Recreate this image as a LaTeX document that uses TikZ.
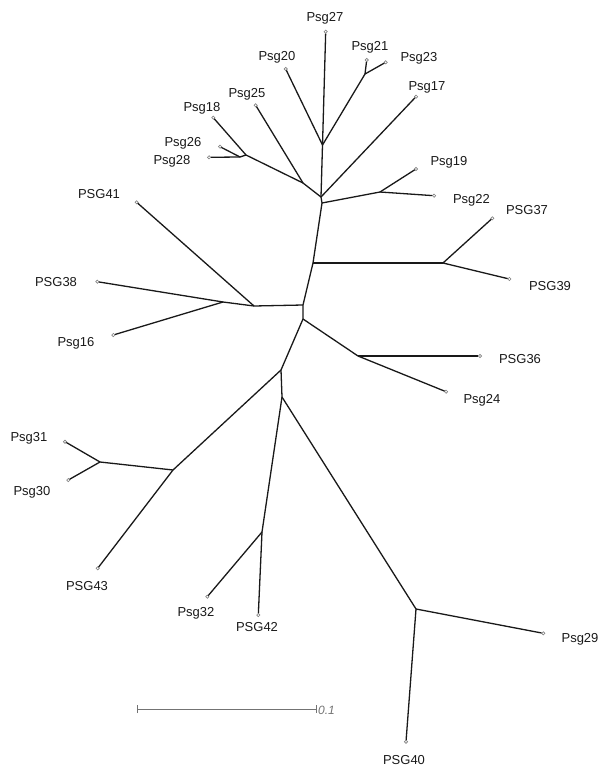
\documentclass[tikz,border=0pt]{standalone}
\usepackage{fontspec}
\setmainfont{Liberation Sans}
\usetikzlibrary{shapes.geometric}
\begin{document}
\begin{tikzpicture}[x=1pt,y=-1pt,
  branch/.style={line width=1.3pt,draw=black!90},
  tipmark/.style={diamond,draw=black!50,fill=white,line width=0.6pt,inner sep=0pt,minimum size=3.5pt},
  taxon/.style={font=\fontsize{13}{13}\selectfont,text=black!90,inner sep=0pt},
  scalebar/.style={line width=1pt,draw=black!55}]
\useasboundingbox (0,0) rectangle (601,770);
% internal nodes
\coordinate (B) at (322.5,145);
\coordinate (A) at (303,183);
\coordinate (C) at (321,197);
\coordinate (C2) at (322,203);
\coordinate (J18) at (246,155);
\coordinate (J2628) at (240,157);
\coordinate (J2123) at (365,74);
\coordinate (D) at (380,192);
\coordinate (E) at (313,263);
\coordinate (F) at (443,263);
\coordinate (G) at (303,305);
\coordinate (Q) at (254,306);
\coordinate (R) at (223,302);
\coordinate (H) at (303,319);
\coordinate (I) at (358,356);
\coordinate (K) at (281,370);
\coordinate (L) at (282,397);
\coordinate (M) at (173,470);
\coordinate (N) at (100,462);
\coordinate (O) at (262,532);
\coordinate (P) at (416,609);
% tips
\node[tipmark] (t27) at (325.7,31.7) {};
\node[tipmark] (t21) at (366.7,60) {};
\node[tipmark] (t23) at (385.7,62.3) {};
\node[tipmark] (t20) at (285.7,69) {};
\node[tipmark] (t17) at (416,96.7) {};
\node[tipmark] (t25) at (255.7,105.3) {};
\node[tipmark] (t18) at (213.3,117.7) {};
\node[tipmark] (t26) at (220,146.7) {};
\node[tipmark] (t28) at (209,157.3) {};
\node[tipmark] (t19) at (416,169) {};
\node[tipmark] (t22) at (434,195.7) {};
\node[tipmark] (t37) at (492.3,218.3) {};
\node[tipmark] (t39) at (509.3,279) {};
\node[tipmark] (t41) at (136.7,202.3) {};
\node[tipmark] (t38) at (97.3,281.7) {};
\node[tipmark] (t16) at (113.3,335) {};
\node[tipmark] (t36) at (480,356) {};
\node[tipmark] (t24) at (446,391.7) {};
\node[tipmark] (t31) at (65,441.7) {};
\node[tipmark] (t30) at (68.3,480) {};
\node[tipmark] (t43) at (97.7,568.3) {};
\node[tipmark] (t42) at (258.3,615) {};
\node[tipmark] (t32) at (207.3,596.7) {};
\node[tipmark] (t29) at (543.3,633.3) {};
\node[tipmark] (t40) at (406,741.7) {};
% branches
\draw[branch] (t27) -- (B);
\draw[branch] (t20) -- (B);
\draw[branch] (t21) -- (J2123);
\draw[branch] (t23) -- (J2123);
\draw[branch] (J2123) -- (B);
\draw[branch] (B) -- (C) -- (C2) -- (E) -- (G) -- (H);
\draw[branch] (t17) -- (C);
\draw[branch] (t28) -- (J2628);
\draw[branch] (t26) -- (J2628);
\draw[branch] (J2628) -- (J18);
\draw[branch] (t18) -- (J18);
\draw[branch] (J18) -- (A);
\draw[branch] (t25) -- (A);
\draw[branch] (A) -- (C);
\draw[branch] (C2) -- (D);
\draw[branch] (D) -- (t19);
\draw[branch] (D) -- (t22);
\draw[branch] (E) -- (F);
\draw[branch] (F) -- (t37);
\draw[branch] (F) -- (t39);
\draw[branch] (G) -- (Q);
\draw[branch] (Q) -- (t41);
\draw[branch] (Q) -- (R);
\draw[branch] (R) -- (t38);
\draw[branch] (R) -- (t16);
\draw[branch] (H) -- (I);
\draw[branch] (I) -- (t36);
\draw[branch] (I) -- (t24);
\draw[branch] (H) -- (K);
\draw[branch] (K) -- (L);
\draw[branch] (K) -- (M);
\draw[branch] (M) -- (N);
\draw[branch] (N) -- (t31);
\draw[branch] (N) -- (t30);
\draw[branch] (M) -- (t43);
\draw[branch] (L) -- (O);
\draw[branch] (O) -- (t42);
\draw[branch] (O) -- (t32);
\draw[branch] (L) -- (P);
\draw[branch] (P) -- (t29);
\draw[branch] (P) -- (t40);
% labels
\node[taxon] (l27) at (325,18) {Psg27};
\node[taxon] (l21) at (370,47) {Psg21};
\node[taxon] (l23) at (419,58) {Psg23};
\node[taxon] (l20) at (277,57) {Psg20};
\node[taxon] (l17) at (427,87) {Psg17};
\node[taxon] (l25) at (247,94) {Psg25};
\node[taxon] (l18) at (202,108) {Psg18};
\node[taxon] (l26) at (183,143) {Psg26};
\node[taxon] (l28) at (172,161) {Psg28};
\node[taxon] (l19) at (449,162) {Psg19};
\node[taxon] (l22) at (471.5,200) {Psg22};
\node[taxon] (l37) at (527,210) {PSG37};
\node[taxon] (l39) at (550,286) {PSG39};
\node[taxon] (l41) at (99,194) {PSG41};
\node[taxon] (l38) at (56,282) {PSG38};
\node[taxon] (l16) at (76,343) {Psg16};
\node[taxon] (l36) at (520,359) {PSG36};
\node[taxon] (l24) at (482,400) {Psg24};
\node[taxon] (l31) at (29,438) {Psg31};
\node[taxon] (l30) at (32,492) {Psg30};
\node[taxon] (l43) at (87,586) {PSG43};
\node[taxon] (l32) at (196,613) {Psg32};
\node[taxon] (l42) at (257,627) {PSG42};
\node[taxon] (l29) at (580,639) {Psg29};
\node[taxon] (l40) at (404,760) {PSG40};
% scale bar
\coordinate (s1) at (137,709);
\coordinate (s2) at (316,709);
\draw[scalebar] (s1) -- (s2);
\draw[scalebar] ([yshift=-4]s1) -- ([yshift=4]s1);
\draw[scalebar] ([yshift=-4]s2) -- ([yshift=4]s2);
\node[anchor=west,inner sep=0pt,font=\fontsize{12}{12}\selectfont\itshape,text=black!55] (sl) at (318,710) {0.1};
\end{tikzpicture}
\end{document}
